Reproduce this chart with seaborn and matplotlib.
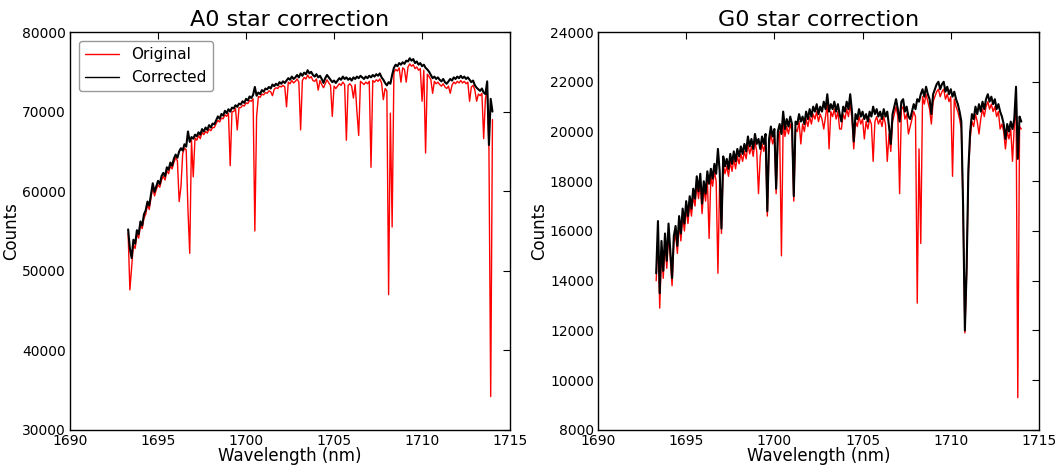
import numpy as np
import pandas as pd
import matplotlib
matplotlib.use("Agg")
import matplotlib.pyplot as plt
import seaborn as sns

# ===== DATA (0.1 nm sampling) =====
WL_START = 1693.3
WL_STEP = 0.1

# A0 star, rows of 1 nm starting at 1693.3
a0_original = [
    54700, 47600, 50500, 53300, 52800, 54600, 54100, 55700, 55300, 56600,
    57100, 58300, 57700, 59200, 60500, 59400, 60200, 60800, 60500, 61400,
    61900, 61400, 62600, 62200, 63200, 62800, 63600, 64200, 63800, 58700,
    60500, 64700, 65400, 65200, 57600, 52200, 66400, 61800, 66700, 66400,
    67000, 66600, 67400, 67100, 67500, 67300, 67800, 67600, 68000, 68000,
    68500, 68900, 68700, 69200, 69100, 69600, 69400, 69800, 63200, 70000,
    70000, 70400, 67700, 70500, 70500, 70800, 70700, 71100, 71000, 71400,
    71300, 71600, 55000, 69400, 71900, 71800, 72200, 72100, 72400, 72300,
    72600, 72500, 72000, 72800, 73000, 72900, 73200, 73100, 73300, 73100,
    70600, 73700, 73500, 73900, 73600, 73800, 74100, 73700, 67700, 73900,
    74300, 74100, 74600, 74200, 74400, 73900, 73800, 74100, 72700, 73900,
    73400, 73000, 73500, 74000, 73600, 73300, 69400, 73200, 72900, 73200,
    73500, 73300, 73700, 73400, 66400, 73300, 73500, 73200, 71700, 73400,
    70000, 67000, 73800, 73600, 73400, 73700, 73500, 73800, 63000, 73900,
    73700, 74000, 73800, 74100, 73600, 71500, 72900, 72600, 47000, 69800,
    55500, 74900, 75300, 75100, 75500, 73700, 75500, 75300, 73700, 75600,
    76000, 75700, 75900, 75400, 75600, 75200, 75400, 71300, 75200, 64800,
    74700, 74400, 74000, 72300, 73800, 73500, 73700, 73400, 73200, 73500,
    73100, 72900, 73200, 72300, 73300, 73700, 73500, 73800, 73600, 73900,
    73600, 73800, 73500, 73700, 71300, 73100, 73300, 72700, 71300, 72200,
    72000, 72300, 66600, 71600, 72900, 65300, 34200, 69000,
]
a0_corrected = [
    55200, 52800, 51600, 53900, 53400, 55100, 54600, 56200, 55700, 57100,
    57600, 58700, 58200, 59600, 61000, 59900, 60600, 61300, 60900, 61900,
    62300, 61900, 63000, 62700, 63600, 63200, 64100, 64600, 64200, 65000,
    65400, 65100, 65900, 65600, 67500, 66200, 66800, 66600, 67100, 66900,
    67400, 67100, 67800, 67500, 68000, 67700, 68300, 68000, 68500, 68400,
    68900, 69400, 69100, 69700, 69500, 70100, 69800, 70300, 70000, 70500,
    70400, 70800, 70600, 71000, 70900, 71300, 71100, 71600, 71400, 71900,
    71700, 72100, 73100, 72000, 72400, 72200, 72700, 72500, 72900, 72800,
    73100, 72900, 73400, 73200, 73500, 73300, 73700, 73500, 73800, 73600,
    73900, 74200, 74000, 74400, 74100, 74300, 74600, 74300, 74800, 74500,
    74900, 74700, 75200, 74800, 75000, 74600, 74400, 74700, 74300, 74500,
    74100, 73600, 74200, 74600, 74300, 74000, 73700, 73900, 73600, 73900,
    74200, 74000, 74400, 74100, 74300, 74000, 74200, 73900, 74300, 74100,
    74400, 74200, 74500, 74300, 74100, 74400, 74200, 74500, 74300, 74600,
    74400, 74700, 74500, 74800, 74300, 74000, 73600, 73300, 73700, 73500,
    74600, 75500, 75900, 75700, 76100, 75900, 76200, 76000, 76400, 76300,
    76700, 76400, 76600, 76100, 76300, 75900, 76100, 75700, 75900, 75500,
    75300, 75000, 74600, 74200, 74400, 74100, 74300, 74000, 73800, 74100,
    73700, 73500, 73800, 74100, 73900, 74300, 74100, 74400, 74200, 74500,
    74200, 74400, 74100, 74300, 74000, 73700, 73900, 73300, 73000, 72800,
    72600, 72900, 72400, 72200, 73800, 65800, 71600, 70000,
]

# G0 star, same sampling
g0_original = [
    14000, 15900, 12900, 15200, 14100, 15500, 14500, 15900, 14900, 13800,
    15500, 15900, 15100, 16300, 15600, 16600, 16000, 16900, 16300, 17100,
    16600, 17400, 17000, 17900, 17300, 18000, 16700, 17700, 17200, 18100,
    15700, 18200, 17800, 18400, 18000, 14300, 18100, 15900, 18700, 18300,
    18600, 18200, 18800, 18400, 18900, 18500, 19000, 18700, 19100, 18800,
    19200, 18900, 19500, 19100, 19400, 19000, 19600, 19200, 17500, 19000,
    19500, 19200, 19600, 16600, 19400, 19900, 19500, 19800, 17500, 19700,
    20000, 15000, 20400, 19800, 20200, 19900, 20300, 20000, 17200, 20100,
    20000, 20400, 19500, 20300, 20000, 20500, 20200, 20600, 20300, 20700,
    20500, 20800, 20400, 20700, 20500, 20100, 20600, 21100, 19300, 20800,
    20600, 20900, 20500, 20800, 20100, 20100, 20700, 20500, 20900, 20600,
    21100, 20500, 19300, 20400, 20200, 20600, 20300, 20500, 19700, 20400,
    20100, 20500, 20300, 18800, 20400, 20600, 20300, 20500, 20200, 20600,
    20300, 18800, 19900, 19200, 20400, 20700, 21000, 20600, 17500, 20900,
    21000, 20500, 20700, 19900, 20200, 20500, 20800, 20600, 13100, 19300,
    15500, 21400, 21100, 21500, 21200, 20900, 20300, 21200, 21400, 21600,
    21700, 21400, 21600, 21700, 21300, 21500, 21200, 21400, 18200, 21300,
    21000, 20800, 20500, 20100, 16800, 11900, 14300, 18300, 19700, 20400,
    20200, 20700, 20400, 19900, 20500, 20900, 20600, 21000, 21200, 20900,
    21100, 20800, 21000, 20600, 20800, 20100, 20300, 20000, 19300, 20000,
    19700, 20100, 18800, 20200, 21400, 9300, 20200, 20100,
]
g0_corrected = [
    14300, 16400, 13500, 15600, 14400, 15900, 14800, 16300, 15200, 14100,
    15800, 16200, 15400, 16600, 15900, 16900, 16300, 17200, 16600, 17400,
    16900, 17700, 17300, 18200, 17600, 18300, 17100, 18000, 17500, 18400,
    17900, 18500, 18100, 18700, 18300, 19300, 18400, 16100, 19000, 18600,
    18900, 18500, 19100, 18700, 19200, 18800, 19300, 19000, 19400, 19100,
    19500, 19200, 19800, 19400, 19700, 19300, 19900, 19500, 19700, 19300,
    19800, 19500, 19900, 16800, 19700, 20200, 19800, 20100, 17700, 20000,
    20300, 19900, 20800, 20100, 20500, 20200, 20600, 20300, 17400, 20400,
    20300, 20700, 20400, 20600, 20300, 20800, 20500, 20900, 20600, 21000,
    20800, 21100, 20700, 21000, 20800, 21200, 20900, 21500, 20800, 21100,
    20900, 21200, 20800, 21100, 20700, 20400, 21000, 20800, 21200, 20900,
    21500, 20800, 19600, 20700, 20500, 20900, 20600, 20800, 20500, 20700,
    20400, 20800, 20600, 21000, 20700, 20900, 20600, 20800, 20500, 20900,
    20600, 20800, 20200, 19500, 20700, 21000, 21300, 20900, 20400, 21200,
    21300, 20800, 21000, 20600, 20500, 20800, 21100, 20900, 21300, 21200,
    21500, 21700, 21400, 21800, 21500, 21300, 20700, 21500, 21700, 21900,
    22000, 21700, 21900, 22000, 21600, 21800, 21500, 21700, 21400, 21600,
    21300, 21100, 20800, 20400, 17000, 12000, 14500, 18500, 20000, 20700,
    20500, 21000, 20700, 21100, 20800, 21200, 20900, 21300, 21500, 21200,
    21400, 21100, 21300, 20900, 21100, 20800, 20600, 20300, 19700, 20300,
    20000, 20400, 20100, 20500, 21800, 18900, 20600, 20400,
]

panels = [
    ("A0 star correction", a0_original, a0_corrected, (30000, 80000), 10000),
    ("G0 star correction", g0_original, g0_corrected, (8000, 24000), 2000),
]

# ===== STYLE =====
sns.set_style("white")
plt.rcParams.update({
    "font.family": ["DejaVu Sans"],
    "text.color": "black",
    "axes.labelcolor": "black",
    "xtick.direction": "in",
    "ytick.direction": "in",
    "xtick.top": True,
    "ytick.right": True,
    "xtick.major.size": 5,
    "ytick.major.size": 5,
    "xtick.color": "black",
    "ytick.color": "black",
    "axes.edgecolor": "black",
    "axes.linewidth": 1.0,
})

fig = plt.figure(figsize=(10.58, 4.66), dpi=100)
axes = [fig.add_axes([0.0662, 0.0773, 0.4159, 0.854]),
        fig.add_axes([0.5652, 0.0773, 0.4168, 0.854])]

for ax, (title, orig, corr, ylim, ystep) in zip(axes, panels):
    wl = np.round(WL_START + WL_STEP * np.arange(len(orig)), 1)
    df = pd.DataFrame({"wl": wl, "Original": orig, "Corrected": corr})
    sns.lineplot(data=df, x="wl", y="Original", color="red", lw=1.0,
                 estimator=None, ax=ax, label="Original")
    sns.lineplot(data=df, x="wl", y="Corrected", color="black", lw=1.5,
                 estimator=None, ax=ax, label="Corrected")
    ax.set_xlim(1690, 1715)
    ax.set_ylim(*ylim)
    ax.set_xticks(np.arange(1690, 1716, 5))
    ax.set_yticks(np.arange(ylim[0], ylim[1] + 1, ystep))
    ax.tick_params(axis="y", labelsize=10, pad=3)
    ax.tick_params(axis="x", labelsize=10, pad=3)
    ax.set_title(title, fontsize=16, pad=4)
    ax.set_xlabel("Wavelength (nm)", fontsize=12, labelpad=-1)
    ax.set_ylabel("Counts", fontsize=12, labelpad=1)

leg = axes[0].legend(loc="upper left", fontsize=11, frameon=True, fancybox=True,
                     edgecolor="0.5", handlelength=2.2, borderaxespad=0.6)
for line in leg.get_lines():
    line.set_linewidth(1.0)
axes[1].get_legend().remove()

fig.savefig("out.png", dpi=100)
